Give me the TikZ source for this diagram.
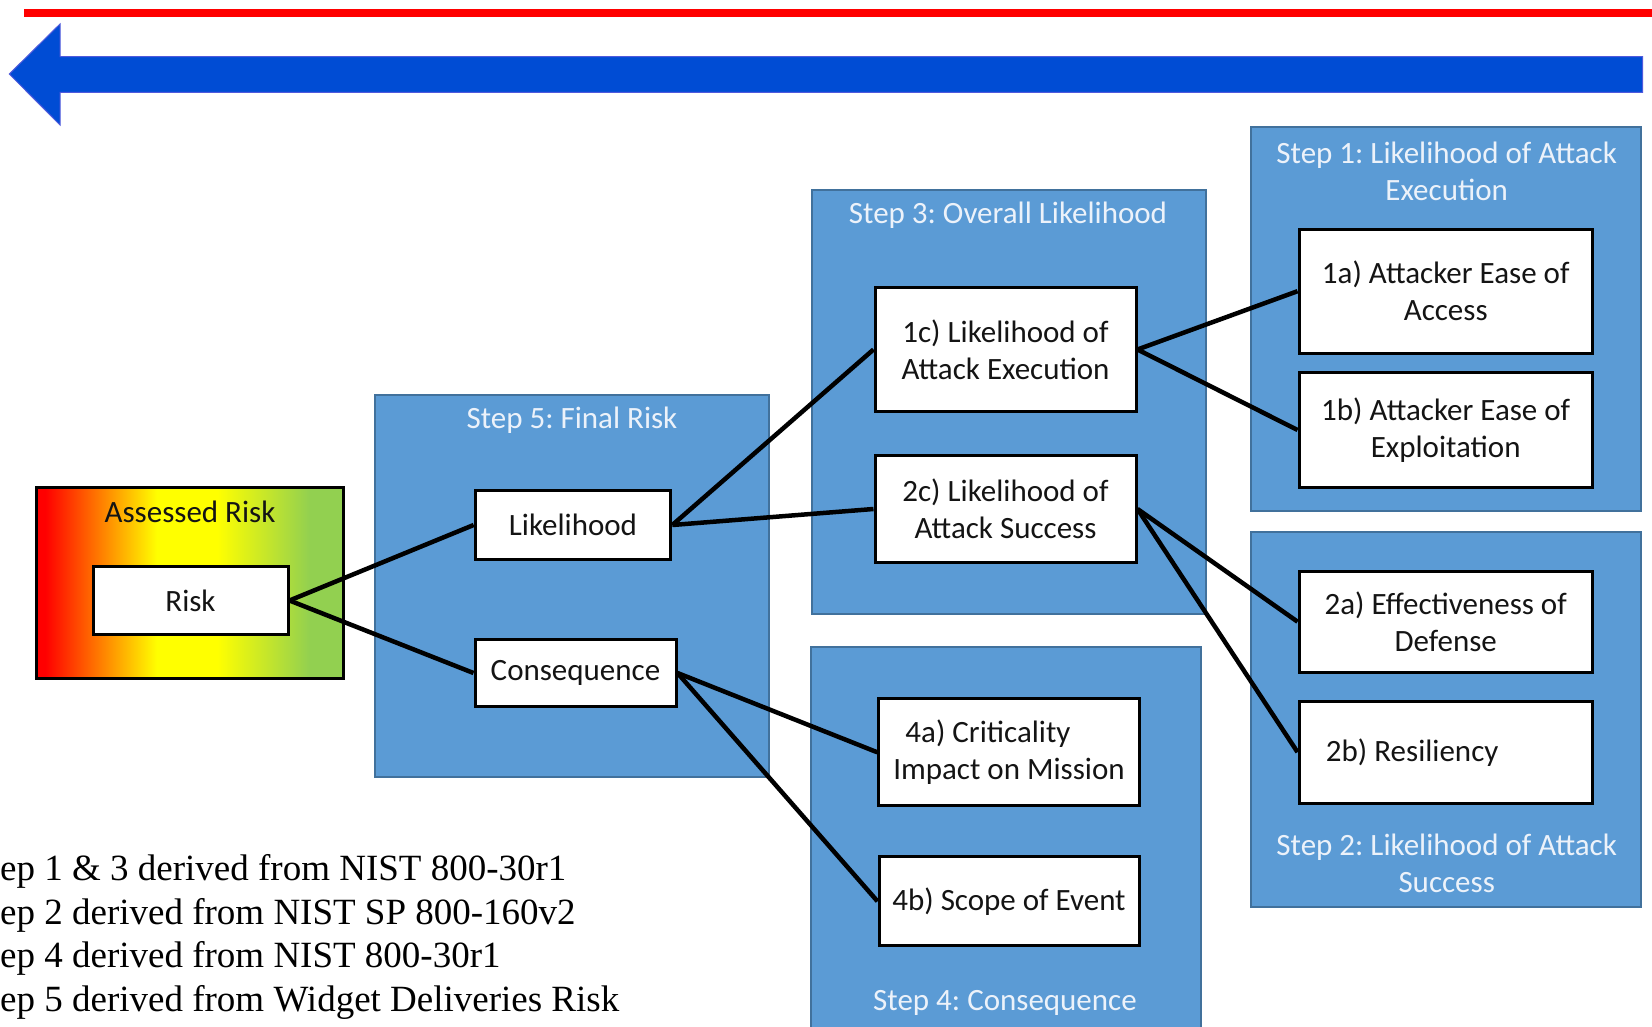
\documentclass[tikz,border=0pt]{standalone}
\usepackage{fontspec}
\setmainfont{Carlito}
\newfontfamily\serifnote{Liberation Serif}
\definecolor{panelfill}{RGB}{91,155,213}
\definecolor{paneledge}{RGB}{65,113,156}
\definecolor{paneltext}{RGB}{236,242,250}
\definecolor{arrowblue}{RGB}{0,76,212}
\definecolor{arrowedge}{RGB}{80,90,220}
\definecolor{riskgreen}{RGB}{146,208,80}
\definecolor{inktext}{RGB}{20,20,20}
% red -> yellow -> green across the assessed-risk panel
\pgfdeclarehorizontalshading{riskgrad}{100bp}{color(0bp)=(red); color(26.5bp)=(red); color(44.7bp)=(yellow); color(54.5bp)=(yellow); color(69.6bp)=(riskgreen); color(100bp)=(riskgreen)}
\frenchspacing

\begin{document}
\begin{tikzpicture}[x=1pt,y=-1pt,
  panel/.style={draw=paneledge, fill=panelfill, line width=2pt},
  paneltitle/.style={text=paneltext, font=\fontsize{31}{37}\selectfont, align=center, inner sep=0pt},
  item/.style={draw=black, fill=white, line width=3pt, inner sep=0pt, align=center, text=inktext, font=\fontsize{31}{37}\selectfont},
  link/.style={draw=black, line width=4.5pt},
  note/.style={anchor=base west, inner sep=0pt, text=black, font=\serifnote\fontsize{37}{44}\selectfont}
]
\useasboundingbox (0,0) rectangle (1652,1027);

% top bar and direction arrow
\fill[red] (24,9) rectangle (1652,16.7);
\draw[fill=arrowblue, draw=arrowedge, line width=1pt]
  (9.3,74) -- (60,24) -- (60,56.7) -- (1642.7,56.7) -- (1642.7,92.3) -- (60,92.3) -- (60,125) -- cycle;

% assessed risk panel
\shadedraw[shading=riskgrad, draw=black, line width=3pt] (36,487.3) rectangle (343,678.3);
\node[inner sep=0pt, text=inktext, font=\fontsize{31}{37}\selectfont] (assessed) at (190,511.7) {Assessed Risk};

% step panels
\draw[panel] (375,395) rectangle (769.3,776.7);
\node[paneltitle] (t5) at (572,420) {Step 5: Final Risk};

\draw[panel] (811.7,190) rectangle (1206,614.3);
\node[paneltitle] (t3) at (1008,215) {Step 3: Overall Likelihood};

\draw[panel] (1251,127.3) rectangle (1641,510.7);
\node[paneltitle] (t1) at (1446.7,171.7) {Step 1: Likelihood of Attack\\Execution};

\draw[panel] (1251,531.7) rectangle (1641,906.7);
\node[paneltitle] (t2) at (1446.7,863.3) {Step 2: Likelihood of Attack\\Success};

\draw[panel] (811,647.3) rectangle (1201,1040);
\node[paneltitle] (t4) at (1005,1003.3) {Step 4: Consequence};

% factor boxes
\node[item, minimum width=195pt, minimum height=67.6pt] (risk) at (190.5,600.5) {Risk};
\node[item, minimum width=195.7pt, minimum height=68.3pt] (like) at (573,525) {Likelihood};
\node[item, minimum width=201pt, minimum height=67.4pt] (cons) at (575.5,673) {Consequence};
\node[item, minimum width=261pt, minimum height=124.4pt] (c1) at (1005.5,349.5) {1c) Likelihood of\\Attack Execution};
\node[item, minimum width=261pt, minimum height=107.7pt] (c2) at (1005.5,509) {2c) Likelihood of\\Attack Success};
\node[item, minimum width=293.3pt, minimum height=124.3pt] (a1) at (1445.7,291.2) {1a) Attacker Ease of\\Access};
\node[item, minimum width=293.3pt, minimum height=115.4pt] (b1) at (1445.7,430) {1b) Attacker Ease of\\Exploitation};
\node[item, minimum width=293.3pt, minimum height=101.3pt] (a2) at (1445.7,621.7) {2a) Effectiveness of\\Defense};
\node[item, minimum width=293.3pt, minimum height=102.3pt] (b2) at (1445.7,752.2) {2b) Resiliency\hspace*{67pt}};
\node[item, minimum width=260.3pt, minimum height=106.7pt] (a4) at (1009,752.3) {4a) Criticality\hspace*{42pt}\\Impact on Mission};
\node[item, minimum width=260pt, minimum height=89.3pt] (b4) at (1009,901.3) {4b) Scope of Event};

% connectors
\draw[link] (risk.east) -- (like.west);
\draw[link] (risk.east) -- (cons.west);
\draw[link] (like.east) -- (c1.west);
\draw[link] (like.east) -- (c2.west);
\draw[link] (cons.east) -- (a4.west);
\draw[link] (cons.east) -- (b4.west);
\draw[link] (c1.east) -- (a1.west);
\draw[link] (c1.east) -- (b1.west);
\draw[link] (c2.east) -- (a2.west);
\draw[link] (c2.east) -- (b2.west);

% source notes
\node[note] (n1) at (0,880) {ep 1 \& 3 derived from NIST 800-30r1};
\node[note] (n2) at (0,924) {ep 2 derived from NIST SP 800-160v2};
\node[note] (n3) at (0,967.5) {ep 4 derived from NIST 800-30r1};
\node[note] (n4) at (0,1011) {ep 5 derived from Widget Deliveries Risk};
\end{tikzpicture}
\end{document}
